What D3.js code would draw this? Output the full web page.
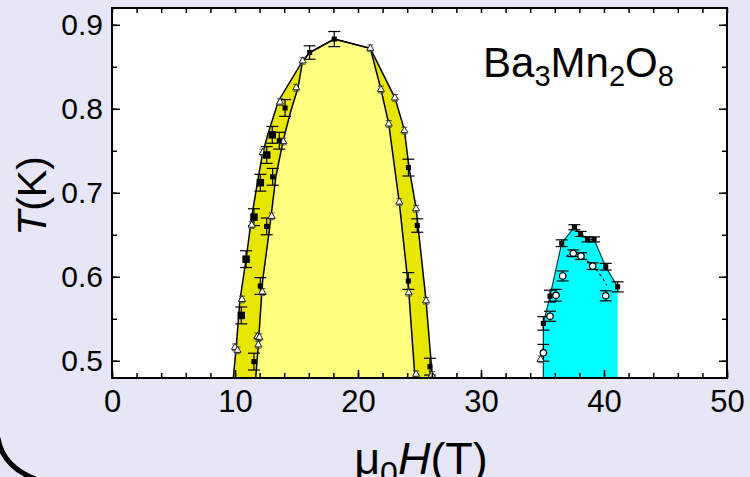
<!DOCTYPE html>
<html>
<head>
<meta charset="utf-8">
<script src="https://cdn.jsdelivr.net/npm/d3@7"></script>
<style>
  body { margin: 0; background: #e6e6f6; }
  svg { display: block; font-family: "Liberation Sans", Arial, sans-serif; }
</style>
</head>
<body>
<div id="chart"></div>
<script>
// phase boundaries, [field (T), temperature (K)]
const outerLine = [[9.86, 0.4795], [10.08, 0.513], [10.4, 0.572], [10.9, 0.621], [11.36, 0.6715],
  [11.82, 0.712], [12.22, 0.745], [12.66, 0.769], [13.52, 0.809], [15.5, 0.857], [16.07, 0.867],
  [18.07, 0.883], [21.0, 0.872], [23.0, 0.813], [23.77, 0.775], [24.15, 0.73], [24.72, 0.682],
  [25.53, 0.572], [26.05, 0.4795]];
const innerLine = [[11.68, 0.4795], [11.9, 0.519], [12.03, 0.549], [12.25, 0.596], [12.79, 0.655],
  [13.33, 0.72], [13.93, 0.763], [14.55, 0.798], [15.12, 0.825], [15.5, 0.857], [16.07, 0.867],
  [18.07, 0.883], [21.0, 0.872], [21.87, 0.823], [22.5, 0.782], [23.36, 0.688], [24.1, 0.588],
  [24.63, 0.4795]];
const cyanLine = [[35.07, 0.4795], [35.07, 0.5445], [35.61, 0.577], [36.56, 0.64], [37.59, 0.659],
  [38.1, 0.651], [38.67, 0.6445], [39.19, 0.6445], [40.14, 0.612], [41.11, 0.588], [41.11, 0.4795]];
const dashedLine = [[36.91, 0.624], [37.5, 0.628], [38.13, 0.6246], [39.08, 0.6127], [39.81, 0.6], [40.22, 0.59]];

// markers, [field, temperature, error]
const bigSquares = [[10.51, 0.554, 0.01], [10.9, 0.621, 0.01], [11.54, 0.671, 0.01], [12.06, 0.712, 0.01],
  [12.58, 0.745, 0.01], [13.03, 0.769, 0.01]];
const smallSquares = [[11.54, 0.499, 0.01], [12.06, 0.589, 0.01], [12.58, 0.66, 0.01], [13.06, 0.719, 0.01],
  [13.6, 0.762, 0.01], [14.07, 0.801, 0.01], [16.07, 0.867, 0.008], [18.07, 0.883, 0.009],
  [24.1, 0.73, 0.01], [24.82, 0.661, 0.008], [24.09, 0.595, 0.01], [25.85, 0.493, 0.01]];
const triangles = [[10.0, 0.516, 0.004], [10.2, 0.5125, 0.004], [10.57, 0.573, 0.004], [11.36, 0.6615, 0.004],
  [12.25, 0.748, 0.004], [13.66, 0.808, 0.004], [15.5, 0.857, 0.004], [11.82, 0.529, 0.004],
  [11.98, 0.528, 0.004], [11.9, 0.519, 0.004], [12.22, 0.582, 0.004], [12.98, 0.672, 0.004],
  [13.93, 0.761, 0.004], [14.98, 0.825, 0.004], [21.0, 0.872, 0.004], [21.86, 0.823, 0.004],
  [22.5, 0.782, 0.004], [23.0, 0.813, 0.004], [23.77, 0.774, 0.004], [23.36, 0.689, 0.004],
  [24.72, 0.681, 0.004], [24.12, 0.581, 0.004], [25.53, 0.5714, 0.004], [24.72, 0.484, 0.004],
  [26.0, 0.483, 0.004], [34.85, 0.5017, 0.004]];
const cyanSquares = [[35.07, 0.5445, 0.008], [35.61, 0.577, 0.007], [36.56, 0.64, 0.004], [37.59, 0.659, 0.003],
  [38.1, 0.651, 0.003], [38.67, 0.6445, 0.003], [39.19, 0.6445, 0.003], [40.14, 0.612, 0.004], [41.11, 0.588, 0.006]];
const cyanCircles = [[35.07, 0.5095, 0.01], [35.61, 0.553, 0.006], [36.1, 0.578, 0.007], [36.64, 0.601, 0.006],
  [37.5, 0.628, 0.004], [38.13, 0.6246, 0.004], [39.08, 0.6127, 0.004], [40.14, 0.5774, 0.006]];

const xMajor = [0, 10, 20, 30, 40, 50];
const yMajor = [0.5, 0.6, 0.7, 0.8, 0.9];

const W = 750, H = 477;
const margin = { top: 8, right: 23, bottom: 99, left: 112 };
const width = W - margin.left - margin.right;
const height = H - margin.top - margin.bottom;

const svg = d3.select('#chart').append('svg').attr('width', W).attr('height', H);

svg.append('rect').attr('width', W).attr('height', H).attr('fill', '#e6e6f6');

// rounded slide corner in the bottom left
const corner = d3.path();
corner.moveTo(-2, 438);
corner.quadraticCurveTo(3, 470, 44, 482);
svg.append('path').attr('d', corner.toString()).attr('fill', 'none')
  .attr('stroke', '#000').attr('stroke-width', 5);

const g = svg.append('g').attr('transform', `translate(${margin.left},${margin.top})`);

const x = d3.scaleLinear().domain([0, 50]).range([0, width]);
const y = d3.scaleLinear().domain([0.4795, 0.92]).range([height, 0]);

g.append('rect').attr('width', width).attr('height', height).attr('fill', '#fff');

g.append('clipPath').attr('id', 'clip').append('rect').attr('width', width).attr('height', height);
const plot = g.append('g').attr('clip-path', 'url(#clip)');

const line = d3.line().x((d) => x(d[0])).y((d) => y(d[1]));

// filled regions
plot.append('path').attr('d', line(outerLine) + 'Z').attr('fill', '#e6e600');
plot.append('path').attr('d', line(innerLine) + 'Z').attr('fill', '#ffff80');
plot.append('path').attr('d', line(cyanLine) + 'Z').attr('fill', '#00ffff');

// boundary lines
[outerLine, innerLine].forEach((pts) => {
  plot.append('path').attr('d', line(pts)).attr('fill', 'none')
    .attr('stroke', '#000').attr('stroke-width', 1.5);
});
plot.append('path').attr('d', line(cyanLine.slice(0, -1))).attr('fill', 'none')
  .attr('stroke', '#003c3c').attr('stroke-width', 1.2);
plot.append('path').attr('d', line.curve(d3.curveCatmullRom)(dashedLine)).attr('fill', 'none')
  .attr('stroke', '#000').attr('stroke-width', 1.2).attr('stroke-dasharray', '3,3');
line.curve(d3.curveLinear);

// error bars
function errorBars(data, cap, color, widthPx) {
  const eb = plot.append('g').attr('stroke', color).attr('stroke-width', widthPx);
  data.forEach((d) => {
    const cx = x(d[0]);
    const y0 = y(d[1] - d[2]);
    const y1 = y(d[1] + d[2]);
    eb.append('line').attr('x1', cx).attr('x2', cx).attr('y1', y0).attr('y2', y1);
    eb.append('line').attr('x1', cx - cap).attr('x2', cx + cap).attr('y1', y0).attr('y2', y0);
    eb.append('line').attr('x1', cx - cap).attr('x2', cx + cap).attr('y1', y1).attr('y2', y1);
  });
}

errorBars(triangles, 3, '#555', 1);
errorBars(bigSquares, 6, '#000', 1.2);
errorBars(smallSquares, 6, '#000', 1.2);
errorBars(cyanSquares, 6, '#000', 1.2);
errorBars(cyanCircles, 6, '#000', 1.2);

const sq = (s) => d3.symbol().type(d3.symbolSquare).size(s);

plot.selectAll('.tri').data(triangles).join('path').attr('class', 'tri')
  .attr('transform', (d) => `translate(${x(d[0])},${y(d[1])})`)
  .attr('d', d3.symbol().type(d3.symbolTriangle).size(22))
  .attr('fill', '#fff').attr('stroke', '#222').attr('stroke-width', 1);

plot.selectAll('.bigsq').data(bigSquares).join('path').attr('class', 'bigsq')
  .attr('transform', (d) => `translate(${x(d[0])},${y(d[1])})`)
  .attr('d', sq(56)).attr('fill', '#000');

plot.selectAll('.smallsq').data(smallSquares.concat(cyanSquares)).join('path').attr('class', 'smallsq')
  .attr('transform', (d) => `translate(${x(d[0])},${y(d[1])})`)
  .attr('d', sq(26)).attr('fill', '#000');

plot.selectAll('.circ').data(cyanCircles).join('circle').attr('class', 'circ')
  .attr('cx', (d) => x(d[0])).attr('cy', (d) => y(d[1])).attr('r', 3.2)
  .attr('fill', '#fff').attr('stroke', '#000').attr('stroke-width', 1.2);

// axes with inward ticks on all four sides
const xMinor = d3.range(0, 51, 2);
const yMinor = d3.range(0.5, 0.92, 0.05);

function styleAxis(sel) {
  sel.select('.domain').remove();
  sel.selectAll('.tick line').attr('stroke', '#000').attr('stroke-width', 1.5);
}

g.append('g').attr('transform', `translate(0,${height})`)
  .call(d3.axisBottom(x).tickValues(xMinor).tickSize(-5).tickFormat(''))
  .call(styleAxis);
g.append('g').attr('transform', `translate(0,${height})`)
  .call(d3.axisBottom(x).tickValues(xMajor).tickSize(-8).tickPadding(12).tickFormat(d3.format('d')))
  .call(styleAxis)
  .call((s) => s.selectAll('text').attr('font-size', 31).attr('fill', '#000')
    .attr('font-family', '"Liberation Sans", Arial, sans-serif'));
g.append('g').call(d3.axisTop(x).tickValues(xMinor).tickSize(-5).tickFormat('')).call(styleAxis);

g.append('g').call(d3.axisLeft(y).tickValues(yMinor).tickSize(-5).tickFormat('')).call(styleAxis);
g.append('g')
  .call(d3.axisLeft(y).tickValues(yMajor).tickSize(-8).tickPadding(9).tickFormat(d3.format('.1f')))
  .call(styleAxis)
  .call((s) => s.selectAll('text').attr('font-size', 30).attr('fill', '#000')
    .attr('font-family', '"Liberation Sans", Arial, sans-serif'));
g.append('g').attr('transform', `translate(${width},0)`)
  .call(d3.axisRight(y).tickValues(yMinor).tickSize(-5).tickFormat('')).call(styleAxis);
g.append('g').attr('transform', `translate(${width},0)`)
  .call(d3.axisRight(y).tickValues(yMajor).tickSize(-8).tickFormat('')).call(styleAxis);

g.append('rect').attr('width', width).attr('height', height).attr('fill', 'none')
  .attr('stroke', '#000').attr('stroke-width', 2);

// compound label
const title = g.append('text').attr('x', 371).attr('y', 69).attr('font-size', 42).attr('fill', '#000');
title.append('tspan').text('Ba');
title.append('tspan').attr('font-size', 29).attr('dy', 9).text('3');
title.append('tspan').attr('dy', -9).text('Mn');
title.append('tspan').attr('font-size', 29).attr('dy', 9).text('2');
title.append('tspan').attr('dy', -9).text('O');
title.append('tspan').attr('font-size', 29).attr('dy', 9).text('8');

// axis titles
const xt = svg.append('text').attr('x', 421).attr('y', 474).attr('text-anchor', 'middle')
  .attr('font-size', 45).attr('fill', '#000');
xt.append('tspan').text('μ');
xt.append('tspan').attr('font-size', 32).attr('dy', 10).text('0');
xt.append('tspan').attr('dy', -10).attr('font-style', 'italic').text('H');
xt.append('tspan').text('(T)');

const yt = svg.append('text').attr('transform', 'translate(46,196) rotate(-90)')
  .attr('text-anchor', 'middle').attr('font-size', 41).attr('fill', '#000');
yt.append('tspan').attr('font-style', 'italic').text('T');
yt.append('tspan').text('(K)');
</script>
</body>
</html>
